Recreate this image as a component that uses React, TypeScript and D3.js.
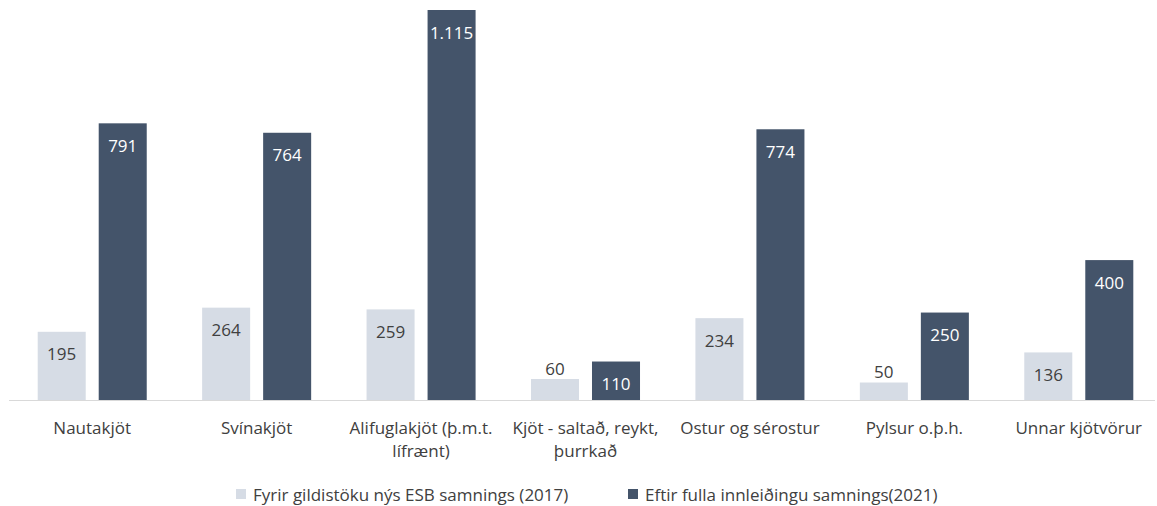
import React from "react";
import * as d3 from "d3";

const categories: string[][] = [
  ["Nautakjöt"],
  ["Svínakjöt"],
  ["Alifuglakjöt (þ.m.t.", "lífrænt)"],
  ["Kjöt - saltað, reykt,", "þurrkað"],
  ["Ostur og sérostur"],
  ["Pylsur o.þ.h."],
  ["Unnar kjötvörur"],
];
const series2017: number[] = [195, 264, 259, 60, 234, 50, 136];
const series2021: number[] = [791, 764, 1115, 110, 774, 250, 400];
const seriesNames: string[] = [
  "Fyrir gildistöku nýs ESB samnings (2017)",
  "Eftir fulla innleiðingu samnings(2021)",
];
const colors = ["#d6dce5", "#44546a"];
const labelColors = ["#404040", "#ffffff"];

const W = 1157;
const H = 506;
const FONT = "'Open Sans', sans-serif";

export default function App() {
  const x0 = d3
    .scaleBand<number>()
    .domain(categories.map((_, i) => i))
    .range([10, 1161])
    .paddingInner(0)
    .paddingOuter(0);
  const x1 = d3
    .scaleBand<number>()
    .domain([0, 1])
    .range([0, x0.bandwidth()])
    .paddingInner(0.213)
    .paddingOuter(0.454);
  const y = d3.scaleLinear().domain([0, 1115]).range([400, 10]);
  const series = [series2017, series2021];
  const fmt = (v: number) => d3.format(",")(v).replace(/,/g, ".");

  return (
    <svg
      width={W}
      height={H}
      style={{ position: "absolute", left: 0, top: 0, display: "block" }}
      fontFamily={FONT}
    >
      <rect x={0} y={0} width={W} height={H} fill="#ffffff" />
      {series.map((vals, s) =>
        vals.map((v, i) => {
          const bx = (x0(i) as number) + (x1(s) as number);
          const bw = x1.bandwidth();
          const top = y(v);
          const h = y(0) - top;
          const inside = h > 30;
          return (
            <g key={`${s}-${i}`}>
              <rect x={bx} y={top} width={bw} height={h} fill={colors[s]} />
              <text
                x={bx + bw / 2}
                y={inside ? top + 22 : top - 11}
                textAnchor="middle"
                dominantBaseline="central"
                fontSize={17}
                fill={inside ? labelColors[s] : "#404040"}
              >
                {fmt(v)}
              </text>
            </g>
          );
        })
      )}
      <line x1={9} x2={1155} y1={y(0) + 0.5} y2={y(0) + 0.5} stroke="#d9d9d9" strokeWidth={1} />
      {categories.map((lines, i) => (
        <text
          key={i}
          x={(x0(i) as number) + x0.bandwidth() / 2}
          y={427}
          textAnchor="middle"
          dominantBaseline="central"
          fontSize={17}
          fill="#404040"
        >
          {lines.map((l, j) => (
            <tspan key={j} x={(x0(i) as number) + x0.bandwidth() / 2} dy={j === 0 ? 0 : 23}>
              {l}
            </tspan>
          ))}
        </text>
      ))}
      {seriesNames.map((n, s) => {
        const lx = s === 0 ? 236 : 628;
        return (
          <g key={n}>
            <rect x={lx} y={489} width={10} height={10} fill={colors[s]} />
            <text x={lx + 17} y={494} dominantBaseline="central" fontSize={17} fill="#404040">
              {n}
            </text>
          </g>
        );
      })}
    </svg>
  );
}
